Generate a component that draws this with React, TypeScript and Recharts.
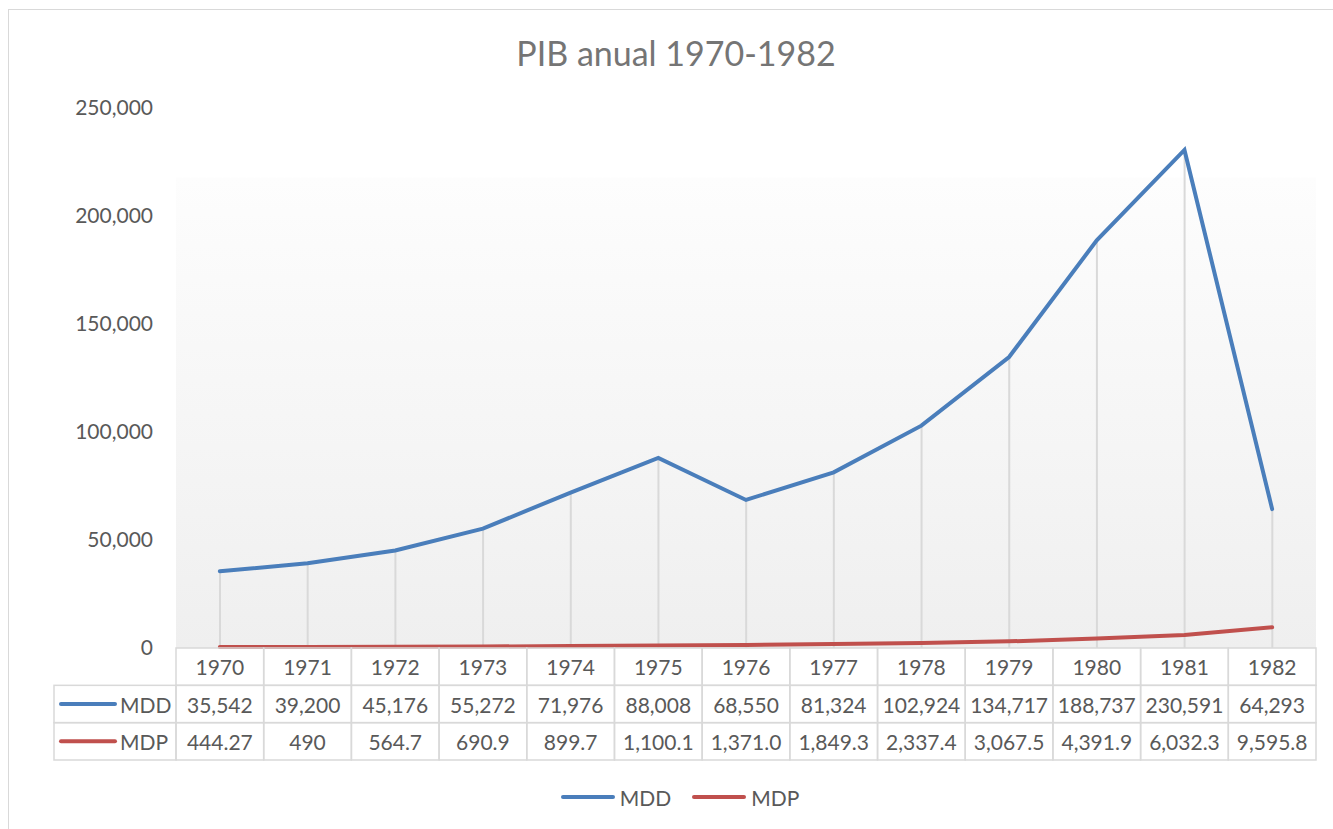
import React from 'react';
import { ComposedChart, Line, Bar, XAxis, YAxis, CartesianGrid } from 'recharts';

const years = ['1970', '1971', '1972', '1973', '1974', '1975', '1976', '1977', '1978', '1979', '1980', '1981', '1982'];
const mdd = [35542, 39200, 45176, 55272, 71976, 88008, 68550, 81324, 102924, 134717, 188737, 230591, 64293];
const mdp = [444.27, 490, 564.7, 690.9, 899.7, 1100.1, 1371.0, 1849.3, 2337.4, 3067.5, 4391.9, 6032.3, 9595.8];
const mdpLabels = ['444.27', '490', '564.7', '690.9', '899.7', '1,100.1', '1,371.0', '1,849.3', '2,337.4', '3,067.5', '4,391.9', '6,032.3', '9,595.8'];
const yTicks = [0, 50000, 100000, 150000, 200000, 250000];

const BLUE = '#4a7ebb';
const RED = '#c0504d';
const GRID = '#d9d9d9';
const TEXT = '#595959';
const FONT = 'Lato, "Open Sans", sans-serif';

const WIDTH = 1333;
const HEIGHT = 829;
const PLOT_LEFT = 176;
const PLOT_RIGHT = 1316;
const BAND = (PLOT_RIGHT - PLOT_LEFT) / years.length;
const ROW_H = 112 / 3;
const HEAD_W = 122;

const data = years.map((year, i) => ({ year, MDD: mdd[i], MDP: mdp[i] }));

const fmt = (v: number) => v.toLocaleString('en-US');

// x axis drawn as an Excel-style data table
function TableTick(props: any) {
  const { x, y, index } = props;
  const left = x - BAND / 2;
  const rows = [years[index], fmt(mdd[index]), mdpLabels[index]];
  return (
    <g>
      {rows.map((label, r) => (
        <g key={r}>
          <rect x={left} y={y + r * ROW_H} width={BAND} height={ROW_H} fill="none" stroke={GRID} strokeWidth={1.5} />
          <text
            x={x}
            y={y + r * ROW_H + ROW_H / 2}
            textAnchor="middle"
            dominantBaseline="central"
            fill={TEXT}
            fontSize={21}
            fontFamily={FONT}
          >
            {label}
          </text>
        </g>
      ))}
      {index === 0 &&
        [
          { name: 'MDD', color: BLUE },
          { name: 'MDP', color: RED },
        ].map((s, r) => {
          const top = y + (r + 1) * ROW_H;
          const cy = top + ROW_H / 2;
          return (
            <g key={s.name}>
              <rect x={left - HEAD_W} y={top} width={HEAD_W} height={ROW_H} fill="none" stroke={GRID} strokeWidth={1.5} />
              <line x1={left - HEAD_W + 7} x2={left - HEAD_W + 61} y1={cy} y2={cy} stroke={s.color} strokeWidth={4} strokeLinecap="round" />
              <text
                x={left - HEAD_W + 66}
                y={cy}
                dominantBaseline="central"
                fill={TEXT}
                fontSize={21}
                fontFamily={FONT}
              >
                {s.name}
              </text>
            </g>
          );
        })}
    </g>
  );
}

function LegendItem({ name, color }: { name: string; color: string }) {
  return (
    <div style={{ display: 'flex', alignItems: 'center', gap: 5 }}>
      <span style={{ display: 'inline-block', width: 54, height: 4, borderRadius: 2, background: color }} />
      <span style={{ color: TEXT, fontSize: 21 }}>{name}</span>
    </div>
  );
}

export default function App() {
  return (
    <div style={{ position: 'absolute', left: 0, top: 0, width: WIDTH, height: HEIGHT, overflow: 'hidden', fontFamily: FONT, background: '#fff' }}>
      <div style={{ position: 'absolute', left: 8, top: 9, width: 1400, height: 900, border: `1px solid ${GRID}` }} />
      <div
        style={{
          position: 'absolute',
          left: 0,
          top: 36,
          width: 1352,
          textAlign: 'center',
          fontSize: 34,
          lineHeight: '34px',
          color: '#757575',
        }}
      >
        PIB anual 1970-1982
      </div>
      <div style={{ position: 'absolute', left: 0, top: 0 }}>
        <ComposedChart
          width={WIDTH}
          height={HEIGHT}
          data={data}
          margin={{ top: 108, right: WIDTH - PLOT_RIGHT, bottom: 69, left: PLOT_LEFT - 120 }}
        >
          <defs>
            <linearGradient id="plotBg" x1="0" y1="0" x2="0" y2="1">
              <stop offset="0" stopColor="#ffffff" />
              <stop offset="0.128" stopColor="#ffffff" />
              <stop offset="0.13" stopColor="#fdfdfd" />
              <stop offset="1" stopColor="#efefef" />
            </linearGradient>
          </defs>
          <CartesianGrid horizontal={false} vertical={false} fill="url(#plotBg)" fillOpacity={1} />
          <XAxis
            dataKey="year"
            axisLine={false}
            tickLine={false}
            tickSize={0}
            tickMargin={0}
            height={112}
            interval={0}
            tick={<TableTick />}
          />
          <YAxis
            width={120}
            domain={[0, 250000]}
            ticks={yTicks}
            axisLine={false}
            tickLine={false}
            tickSize={0}
            tickMargin={23}
            tickFormatter={(v: number) => fmt(v)}
            tick={{ fill: TEXT, fontSize: 21, fontFamily: FONT }}
          />
          {/* drop lines */}
          <Bar dataKey="MDD" barSize={2} fill={GRID} isAnimationActive={false} legendType="none" />
          <Line type="linear" dataKey="MDD" stroke={BLUE} strokeWidth={4} dot={false} isAnimationActive={false} strokeLinecap="round" />
          <Line type="linear" dataKey="MDP" stroke={RED} strokeWidth={4} dot={false} isAnimationActive={false} strokeLinecap="round" />
        </ComposedChart>
      </div>
      <div
        style={{
          position: 'absolute',
          left: 0,
          top: 783,
          width: 1360,
          height: 28,
          display: 'flex',
          justifyContent: 'center',
          alignItems: 'center',
          gap: 21,
        }}
      >
        <LegendItem name="MDD" color={BLUE} />
        <LegendItem name="MDP" color={RED} />
      </div>
    </div>
  );
}
